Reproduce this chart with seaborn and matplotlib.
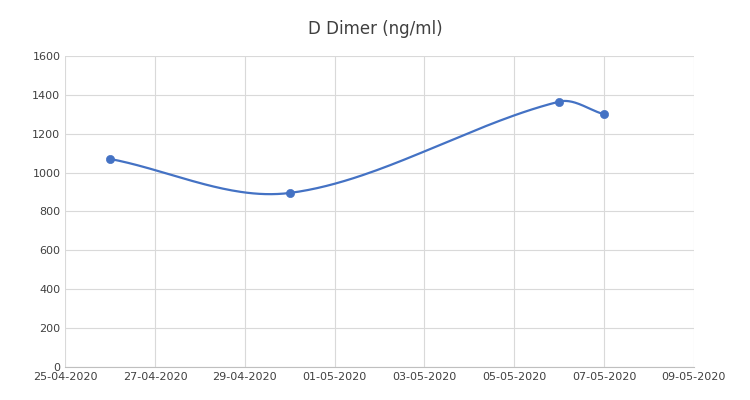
import numpy as np
import pandas as pd
import matplotlib
matplotlib.use("Agg")
import matplotlib.pyplot as plt
import matplotlib.dates as mdates
import seaborn as sns

sns.set_style("white")
plt.rcParams['font.family'] = ['DejaVu Sans']

dates = pd.to_datetime(["2020-04-26", "2020-04-30", "2020-05-06", "2020-05-07"])
values = [1070, 895, 1365, 1300]
color = "#4472C4"

# smoothed line (cubic Hermite in x) like Excel's smoothed line
x = mdates.date2num(dates)
y = np.array(values, dtype=float)
n = len(x)
m = np.zeros(n)
m[0] = (y[1] - y[0]) / (x[1] - x[0])
m[-1] = (y[-1] - y[-2]) / (x[-1] - x[-2])
for i in range(1, n - 1):
    m[i] = (y[i + 1] - y[i - 1]) / (x[i + 1] - x[i - 1])
cx, cy = [], []
t = np.linspace(0, 1, 60)
for i in range(n - 1):
    h = x[i + 1] - x[i]
    h00 = 2 * t**3 - 3 * t**2 + 1
    h10 = t**3 - 2 * t**2 + t
    h01 = -2 * t**3 + 3 * t**2
    h11 = t**3 - t**2
    cx.extend(x[i] + t * h)
    cy.extend(h00 * y[i] + h10 * h * m[i] + h01 * y[i + 1] + h11 * h * m[i + 1])

fig, ax = plt.subplots(figsize=(7.5, 4), dpi=100)
fig.subplots_adjust(left=0.087, right=0.925, top=0.86, bottom=0.083)
ax.plot(mdates.num2date(cx), cy, color=color, lw=1.6)
sns.scatterplot(x=dates, y=values, ax=ax, color=color, s=35, edgecolor=color, zorder=3)

ax.set_xlim(pd.Timestamp("2020-04-25"), pd.Timestamp("2020-05-09"))
ax.set_ylim(0, 1600)
ax.set_yticks(range(0, 1601, 200))
ax.set_xticks(pd.date_range("2020-04-25", "2020-05-09", freq="2D"))
ax.xaxis.set_major_formatter(mdates.DateFormatter("%d-%m-%Y"))
ax.tick_params(labelsize=8, colors="#404040", length=0)
ax.grid(True, color="#d9d9d9", lw=0.8)
for s in ["top", "right", "left"]:
    ax.spines[s].set_visible(False)
ax.spines["bottom"].set_color("#bfbfbf")
ax.set_xlabel("")
ax.set_ylabel("")
fig.suptitle("D Dimer (ng/ml)", fontsize=12, color="#404040", y=0.95)
fig.savefig("out.png", dpi=100)
